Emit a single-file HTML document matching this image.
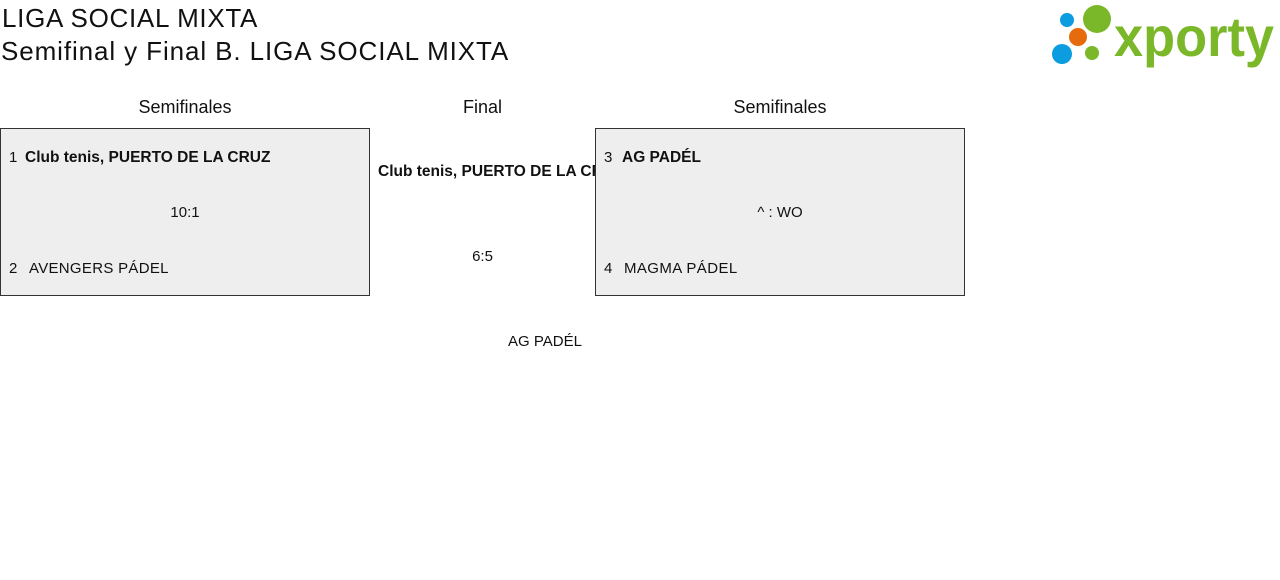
<!DOCTYPE html>
<html><head><meta charset="utf-8"><style>
body{margin:0;width:1280px;height:580px;background:#fff;font-family:"Liberation Sans",sans-serif;color:#111;position:relative;overflow:hidden}
.a{position:absolute;white-space:nowrap}
.box{position:absolute;top:128px;width:368px;height:166px;border:1px solid #333;background:#eee}
.h{font-size:18px;top:97px}
.t{font-size:15px}
.b{font-weight:bold}
</style></head><body>
<div class="a" style="left:2px;top:3px;font-size:26px;letter-spacing:0.7px">LIGA SOCIAL MIXTA</div>
<div class="a" style="left:1px;top:36px;font-size:26px;letter-spacing:0.9px">Semifinal y Final B. LIGA SOCIAL MIXTA</div>
<svg class="a" style="left:1040px;top:0" width="240" height="75">
<circle cx="27" cy="20" r="7" fill="#0b9de0"/>
<circle cx="57" cy="19" r="14" fill="#7ab829"/>
<circle cx="38" cy="37" r="9" fill="#e56b0c"/>
<circle cx="22" cy="54" r="10" fill="#0b9de0"/>
<circle cx="52" cy="53" r="7" fill="#7ab829"/>
<text x="74" y="56" font-family="Liberation Sans" font-weight="bold" font-size="56" fill="#7ab829" textLength="160" lengthAdjust="spacingAndGlyphs">xporty</text>
</svg>
<div class="a h" style="left:0;width:370px;text-align:center">Semifinales</div>
<div class="a h" style="left:370px;width:225px;text-align:center">Final</div>
<div class="a h" style="left:595px;width:370px;text-align:center">Semifinales</div>
<div class="a t b" style="left:378px;top:163px;font-size:15.5px">Club tenis, PUERTO DE LA CRUZ</div>
<div class="a t" style="left:370px;width:225px;top:248px;text-align:center">6:5</div>
<div class="a t" style="left:508px;top:333px">AG PADÉL</div>
<div class="box" style="left:0">
<div class="a t" style="left:8px;top:20px">1</div>
<div class="a t b" style="left:24px;top:20px;font-size:15.5px">Club tenis, PUERTO DE LA CRUZ</div>
<div class="a t" style="left:0;width:368px;text-align:center;top:75px">10:1</div>
<div class="a t" style="left:8px;top:131px">2</div>
<div class="a t" style="left:28px;top:131px;letter-spacing:0.3px">AVENGERS PÁDEL</div>
</div>
<div class="box" style="left:595px">
<div class="a t" style="left:8px;top:20px">3</div>
<div class="a t b" style="left:26px;top:20px;font-size:15.5px">AG PADÉL</div>
<div class="a t" style="left:0;width:368px;text-align:center;top:75px">^ : WO</div>
<div class="a t" style="left:8px;top:131px">4</div>
<div class="a t" style="left:28px;top:131px;letter-spacing:0.4px">MAGMA PÁDEL</div>
</div>
</body></html>
